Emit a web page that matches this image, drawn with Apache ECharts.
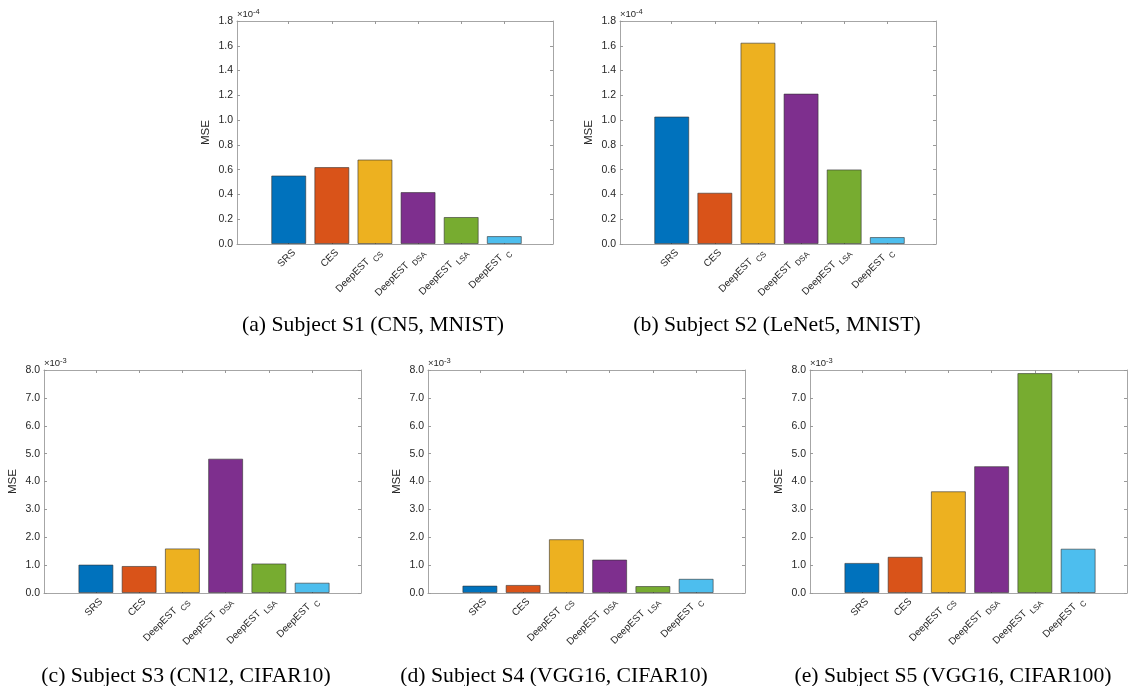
<!DOCTYPE html>
<html>
<head>
<meta charset="utf-8">
<script src="https://cdn.jsdelivr.net/npm/echarts@6/dist/echarts.min.js"></script>
<style>
html,body{margin:0;padding:0;background:#fff;}
#chart{width:1128px;height:686px;}
</style>
</head>
<body>
<div id="chart"></div>
<script>
// Categories (main text + subscript)
var catMain = ['SRS', 'CES', 'DeepEST', 'DeepEST', 'DeepEST', 'DeepEST'];
var catSub = ['', '', 'CS', 'DSA', 'LSA', 'C'];
var catPos = [1, 2, 3, 4, 5, 6];

// MSE values, in units of the axis exponent
var s1Values = [0.553, 0.621, 0.682, 0.419, 0.218, 0.064];   // x1e-4
var s2Values = [1.029, 0.414, 1.625, 1.214, 0.602, 0.056];   // x1e-4
var s3Values = [1.02, 0.97, 1.60, 4.82, 1.06, 0.37];         // x1e-3
var s4Values = [0.265, 0.29, 1.93, 1.20, 0.25, 0.51];        // x1e-3
var s5Values = [1.08, 1.30, 3.65, 4.55, 7.89, 1.59];         // x1e-3

var captions = [
  '(a) Subject S1 (CN5, MNIST)',
  '(b) Subject S2 (LeNet5, MNIST)',
  '(c) Subject S3 (CN12, CIFAR10)',
  '(d) Subject S4 (VGG16, CIFAR10)',
  '(e) Subject S5 (VGG16, CIFAR100)'
];
var exponents = ['-4', '-4', '-3', '-3', '-3'];
var yMax = [1.8, 1.8, 8, 8, 8];
var yStep = [0.2, 0.2, 1, 1, 1];
var barColors = ['#0072BD', '#D95319', '#EDB120', '#7E2F8E', '#77AC30', '#4DBEEE'];

var allValues = [s1Values, s2Values, s3Values, s4Values, s5Values];
var grids = [
  {left: 237, top: 21, width: 316, height: 223},
  {left: 620, top: 21, width: 316, height: 223},
  {left: 44, top: 370, width: 317, height: 223},
  {left: 428, top: 370, width: 317, height: 223},
  {left: 810, top: 370, width: 317, height: 223}
];
var captionPos = [[373, 314], [777, 314], [186, 665], [554, 665], [953, 665]];

var FONT = '"Liberation Sans", Helvetica, Arial, sans-serif';
var AXIS_LINE = '#a6a6a6';
var TXT = '#262626';
var LABEL_SHIFT = 0.12; // label anchor offset (axis units) to mimic MATLAB's rotated label placement

var option = {
  animation: false,
  backgroundColor: '#ffffff',
  color: barColors,
  grid: [], xAxis: [], yAxis: [], series: [], title: []
};

grids.forEach(function (g, i) {
  option.grid.push({left: g.left, top: g.top, width: g.width, height: g.height, containLabel: false});
  var xmin = -0.2, xmax = 7.13;
  // bottom x axis
  option.xAxis.push({
    type: 'value', gridIndex: i, min: xmin, max: xmax, position: 'bottom',
    axisLine: {show: true, onZero: false, lineStyle: {color: AXIS_LINE, width: 1}},
    axisTick: {show: true, inside: true, length: 3, customValues: catPos, lineStyle: {color: '#777'}},
    splitLine: {show: false},
    axisLabel: {
      show: true, customValues: catPos.map(function (p) { return p + LABEL_SHIFT; }),
      rotate: 45, margin: 7,
      color: TXT, fontFamily: FONT, fontSize: 10,
      formatter: function (v) {
        var k = Math.round(v) - 1;
        if (k < 0 || k >= catMain.length) return '';
        return catSub[k] ? '{m|' + catMain[k] + ' }{s|' + catSub[k] + '}' : '{m|' + catMain[k] + '}';
      },
      rich: {
        m: {fontFamily: FONT, fontSize: 10, color: TXT, verticalAlign: 'top', padding: [0, 0, 0, 0]},
        s: {fontFamily: FONT, fontSize: 8, color: TXT, verticalAlign: 'top', padding: [6, 0, 0, 1]}
      }
    }
  });
  // top x axis (box)
  option.xAxis.push({
    type: 'value', gridIndex: i, min: xmin, max: xmax, position: 'top',
    axisLine: {show: true, onZero: false, lineStyle: {color: AXIS_LINE, width: 1}},
    axisTick: {show: true, inside: true, length: 3, customValues: catPos, lineStyle: {color: '#999'}},
    axisLabel: {show: false}, splitLine: {show: false}
  });
  // left y axis
  option.yAxis.push({
    type: 'value', gridIndex: i, min: 0, max: yMax[i], interval: yStep[i], position: 'left',
    name: 'MSE', nameLocation: 'middle', nameGap: 25, nameRotate: 90,
    nameTextStyle: {color: TXT, fontFamily: FONT, fontSize: 11.5},
    axisLine: {show: true, onZero: false, lineStyle: {color: AXIS_LINE, width: 1}},
    axisTick: {show: true, inside: true, length: 3, lineStyle: {color: '#999'}},
    splitLine: {show: false},
    axisLabel: {color: TXT, fontFamily: FONT, fontSize: 10.5, margin: 4,
      formatter: function (v) { return v.toFixed(1); }}
  });
  // right y axis (box)
  option.yAxis.push({
    type: 'value', gridIndex: i, min: 0, max: yMax[i], interval: yStep[i], position: 'right',
    axisLine: {show: true, onZero: false, lineStyle: {color: AXIS_LINE, width: 1}},
    axisTick: {show: true, inside: true, length: 3, lineStyle: {color: '#999'}},
    axisLabel: {show: false}, splitLine: {show: false}
  });
  option.series.push({
    type: 'bar', xAxisIndex: 2 * i, yAxisIndex: 2 * i,
    colorBy: 'data', barWidth: 35,
    itemStyle: {borderColor: 'rgba(50,50,50,0.6)', borderWidth: 1},
    data: allValues[i].map(function (v, k) { return [catPos[k], v]; })
  });
  option.title.push({
    left: g.left, top: g.top - 13,
    text: '×10{sup|' + exponents[i] + '}',
    textStyle: {fontFamily: FONT, fontSize: 9.5, color: TXT, fontWeight: 'normal',
      rich: {sup: {fontFamily: FONT, fontSize: 7.5, color: TXT, verticalAlign: 'top', padding: [0, 0, 5, 0]}}},
    padding: 0
  });
  option.title.push({
    left: captionPos[i][0], top: captionPos[i][1], textAlign: 'center',
    text: captions[i], padding: 0,
    textStyle: {fontFamily: '"Liberation Serif", "Times New Roman", serif', fontSize: 21.7, color: '#000', fontWeight: 'normal'}
  });
});

var chart = echarts.init(document.getElementById('chart'), null, {renderer: 'canvas'});
chart.setOption(option);
</script>
</body>
</html>
